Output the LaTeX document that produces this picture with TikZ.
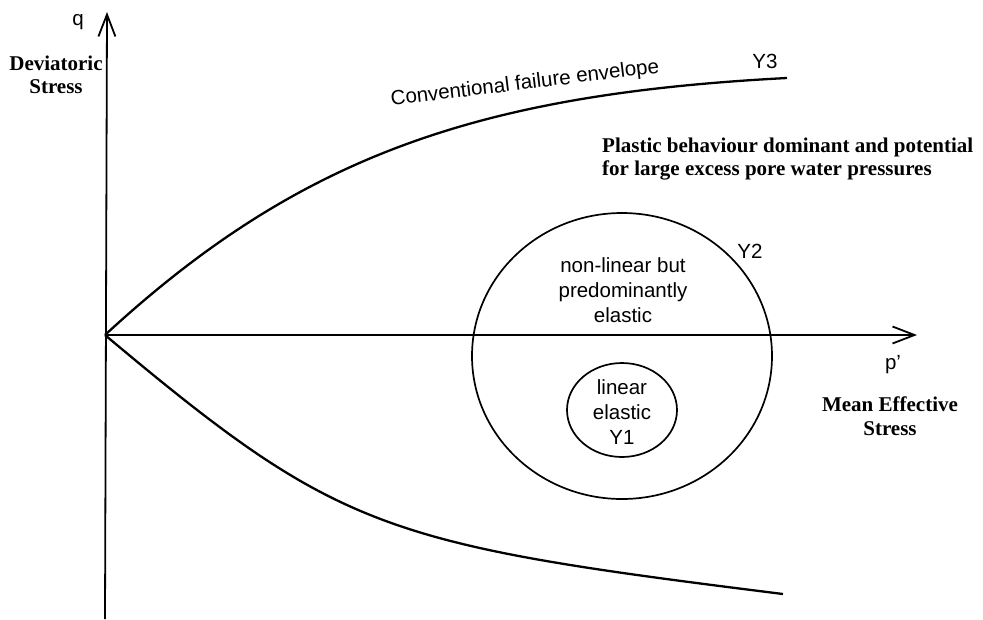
\documentclass[tikz,border=0pt]{standalone}
\usepackage{fontspec}
\setmainfont{Liberation Serif}
\setsansfont{Liberation Sans}
\usepackage{tikz}
\usetikzlibrary{arrows.meta}

\begin{document}
\begin{tikzpicture}[x=1pt,y=-1pt,
	axis/.style={line width=1.8pt,-{Straight Barb[length=22pt,width=17pt,line width=1.8pt]}},
	envelope/.style={line width=2.3pt},
	yieldsurf/.style={line width=1.7pt},
	lbl/.style={font=\sffamily\fontsize{20.5}{25}\selectfont,align=center,inner sep=0pt},
	boldtxt/.style={font=\bfseries\fontsize{21}{23.5}\selectfont,inner sep=0pt},
	]
	\useasboundingbox (0,0) rectangle (983,619);
	\coordinate (O) at (105,335);
	\coordinate (qend) at (105,619);
	\coordinate (qtip) at (107,12);
	\coordinate (ptip) at (917,335);
	\coordinate (Y3end) at (787,78);
	\coordinate (lowend) at (783,594);
	\draw[axis] (qend) -- (qtip);
	\draw[axis] (O) -- (ptip);
	\draw[envelope] (O) .. controls (300,155) and (480,94) .. (Y3end);
	\draw[envelope] (O) .. controls (340,532) and (383,544) .. (lowend);
	\draw[yieldsurf] (622,356) ellipse [x radius=150,y radius=143];
	\draw[yieldsurf] (622,410) ellipse [x radius=55,y radius=47];
	\node[lbl] (q) at (78,22) {q};
	\node[boldtxt,align=center] (devstress) at (56,75) {Deviatoric\\Stress};
	\node[lbl,rotate=7] (cfe) at (525,84) {Conventional failure envelope};
	\node[lbl] (Y3) at (765,61) {Y3};
	\node[boldtxt,align=left,anchor=west] (plastic) at (602,159) {Plastic behaviour dominant and potential\\for large excess pore water pressures};
	\node[lbl] (Y2) at (750,251) {Y2};
	\node[lbl] (nonlin) at (623,290) {non-linear but\\predominantly\\elastic};
	\node[lbl] (linel) at (622,412) {linear\\elastic\\Y1};
	\node[lbl] (p) at (893,365) {p’};
	\node[boldtxt,align=center] (mes) at (890,416) {Mean Effective\\Stress};
\end{tikzpicture}
\end{document}
